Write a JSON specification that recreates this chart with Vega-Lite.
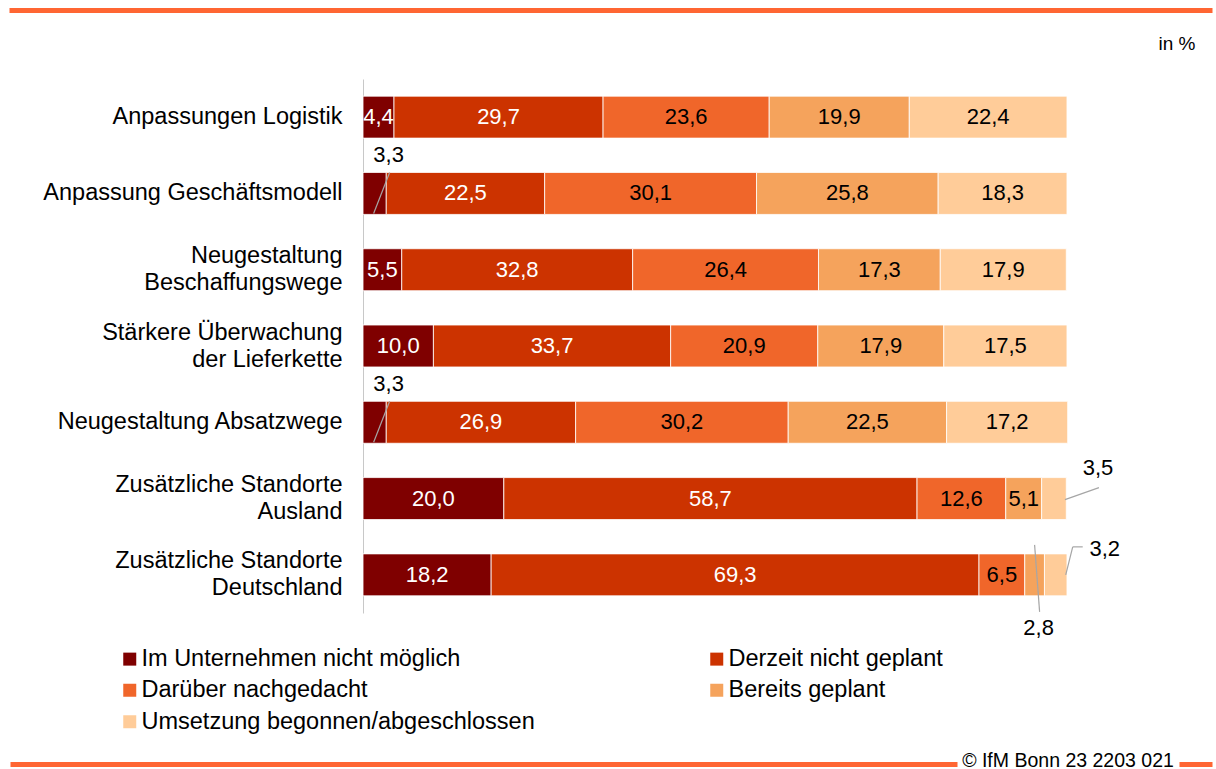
{
  "$schema": "https://vega.github.io/schema/vega-lite/v6.json",
  "autosize": "none",
  "width": 1208,
  "height": 534,
  "padding": {"left": 4, "top": 79, "right": 4, "bottom": 156},
  "config": {
    "font": "Liberation Sans",
    "view": {"stroke": null},
    "locale": {"number": {"decimal": ",", "thousands": ".", "grouping": [3], "currency": ["", " €"]}}
  },
  "data": {"values": [
    {"category": "Anpassungen Logistik", "series": "Im Unternehmen nicht möglich", "order": 1, "value": 4.4},
    {"category": "Anpassungen Logistik", "series": "Derzeit nicht geplant", "order": 2, "value": 29.7},
    {"category": "Anpassungen Logistik", "series": "Darüber nachgedacht", "order": 3, "value": 23.6},
    {"category": "Anpassungen Logistik", "series": "Bereits geplant", "order": 4, "value": 19.9},
    {"category": "Anpassungen Logistik", "series": "Umsetzung begonnen/abgeschlossen", "order": 5, "value": 22.4},
    {"category": "Anpassung Geschäftsmodell", "series": "Im Unternehmen nicht möglich", "order": 1, "value": 3.3},
    {"category": "Anpassung Geschäftsmodell", "series": "Derzeit nicht geplant", "order": 2, "value": 22.5},
    {"category": "Anpassung Geschäftsmodell", "series": "Darüber nachgedacht", "order": 3, "value": 30.1},
    {"category": "Anpassung Geschäftsmodell", "series": "Bereits geplant", "order": 4, "value": 25.8},
    {"category": "Anpassung Geschäftsmodell", "series": "Umsetzung begonnen/abgeschlossen", "order": 5, "value": 18.3},
    {"category": "Neugestaltung|Beschaffungswege", "series": "Im Unternehmen nicht möglich", "order": 1, "value": 5.5},
    {"category": "Neugestaltung|Beschaffungswege", "series": "Derzeit nicht geplant", "order": 2, "value": 32.8},
    {"category": "Neugestaltung|Beschaffungswege", "series": "Darüber nachgedacht", "order": 3, "value": 26.4},
    {"category": "Neugestaltung|Beschaffungswege", "series": "Bereits geplant", "order": 4, "value": 17.3},
    {"category": "Neugestaltung|Beschaffungswege", "series": "Umsetzung begonnen/abgeschlossen", "order": 5, "value": 17.9},
    {"category": "Stärkere Überwachung|der Lieferkette", "series": "Im Unternehmen nicht möglich", "order": 1, "value": 10.0},
    {"category": "Stärkere Überwachung|der Lieferkette", "series": "Derzeit nicht geplant", "order": 2, "value": 33.7},
    {"category": "Stärkere Überwachung|der Lieferkette", "series": "Darüber nachgedacht", "order": 3, "value": 20.9},
    {"category": "Stärkere Überwachung|der Lieferkette", "series": "Bereits geplant", "order": 4, "value": 17.9},
    {"category": "Stärkere Überwachung|der Lieferkette", "series": "Umsetzung begonnen/abgeschlossen", "order": 5, "value": 17.5},
    {"category": "Neugestaltung Absatzwege", "series": "Im Unternehmen nicht möglich", "order": 1, "value": 3.3},
    {"category": "Neugestaltung Absatzwege", "series": "Derzeit nicht geplant", "order": 2, "value": 26.9},
    {"category": "Neugestaltung Absatzwege", "series": "Darüber nachgedacht", "order": 3, "value": 30.2},
    {"category": "Neugestaltung Absatzwege", "series": "Bereits geplant", "order": 4, "value": 22.5},
    {"category": "Neugestaltung Absatzwege", "series": "Umsetzung begonnen/abgeschlossen", "order": 5, "value": 17.2},
    {"category": "Zusätzliche Standorte|Ausland", "series": "Im Unternehmen nicht möglich", "order": 1, "value": 20.0},
    {"category": "Zusätzliche Standorte|Ausland", "series": "Derzeit nicht geplant", "order": 2, "value": 58.7},
    {"category": "Zusätzliche Standorte|Ausland", "series": "Darüber nachgedacht", "order": 3, "value": 12.6},
    {"category": "Zusätzliche Standorte|Ausland", "series": "Bereits geplant", "order": 4, "value": 5.1},
    {"category": "Zusätzliche Standorte|Ausland", "series": "Umsetzung begonnen/abgeschlossen", "order": 5, "value": 3.5},
    {"category": "Zusätzliche Standorte|Deutschland", "series": "Im Unternehmen nicht möglich", "order": 1, "value": 18.2},
    {"category": "Zusätzliche Standorte|Deutschland", "series": "Derzeit nicht geplant", "order": 2, "value": 69.3},
    {"category": "Zusätzliche Standorte|Deutschland", "series": "Darüber nachgedacht", "order": 3, "value": 6.5},
    {"category": "Zusätzliche Standorte|Deutschland", "series": "Bereits geplant", "order": 4, "value": 2.8},
    {"category": "Zusätzliche Standorte|Deutschland", "series": "Umsetzung begonnen/abgeschlossen", "order": 5, "value": 3.2}
  ]},
  "transform": [
    {"stack": "value", "groupby": ["category"], "sort": [{"field": "order", "order": "ascending"}], "as": ["x0", "x1"]},
    {"calculate": "(datum.x0 + datum.x1) / 2", "as": "mid"}
  ],
  "encoding": {
    "y": {
      "field": "category", "type": "nominal", "sort": null,
      "scale": {"paddingInner": 0.45, "paddingOuter": 0.225},
      "axis": {
        "title": null, "orient": "left", "offset": -359,
        "domain": true, "domainColor": "#C8C8C8", "domainWidth": 1,
        "ticks": false, "grid": false,
        "labelExpr": "split(datum.label, '|')",
        "labelFontSize": 23.5, "labelFont": "Liberation Sans", "labelColor": "#000000",
        "labelPadding": 21, "labelLineHeight": 27, "labelLimit": 500, "labelBaseline": "middle",
        "labelOffset": {"condition": {"test": "indexof(datum.value, '|') >= 0", "value": -13.5}, "value": 0}
      }
    }
  },
  "resolve": {"axis": {"x": "independent"}},
  "layer": [
    {
      "mark": {"type": "bar", "stroke": "white", "strokeWidth": 0.8},
      "encoding": {
        "x": {
          "field": "x0", "type": "quantitative",
          "scale": {"domain": [-51.0, 120.6], "nice": false, "zero": false},
          "axis": {
            "orient": "bottom", "offset": 151, "labels": false, "ticks": false, "grid": false,
            "domain": true, "domainColor": "#FF6633", "domainWidth": 5, "domainDash": [0, 6, 947, 222, 100, 1000],
            "title": "© IfM Bonn 23 2203 021", "titleFontSize": 19.5, "titleFont": "Liberation Sans",
            "titleFontWeight": "normal", "titleColor": "#000000",
            "titleX": 1063.5, "titleY": -4, "titleAlign": "center", "titleBaseline": "middle", "titleAnchor": null
          }
        },
        "x2": {"field": "x1"},
        "color": {
          "field": "series", "type": "nominal",
          "scale": {
            "domain": ["Im Unternehmen nicht möglich", "Derzeit nicht geplant", "Darüber nachgedacht", "Bereits geplant", "Umsetzung begonnen/abgeschlossen"],
            "range": ["#7F0000", "#CC3300", "#F0662A", "#F5A35C", "#FFCC99"]
          },
          "legend": {
            "orient": "none", "legendX": 114, "legendY": 568, "columns": 2, "direction": "horizontal",
            "columnPadding": 170, "rowPadding": 6.5, "symbolType": "square", "symbolSize": 169, "symbolStrokeWidth": 0,
            "labelFontSize": 23.5, "labelFont": "Liberation Sans", "labelColor": "#000000", "labelOffset": 0,
            "labelLimit": 600, "title": null, "padding": 0
          }
        }
      }
    },
    {
      "transform": [{"filter": "datum.order <= 2 && datum.value > 4"}],
      "mark": {"type": "text", "color": "white", "fontSize": 22, "font": "Liberation Sans", "align": "center", "baseline": "middle"},
      "encoding": {
        "x": {
          "field": "mid", "type": "quantitative",
          "axis": {
            "orient": "top", "offset": 69, "labels": false, "ticks": false, "grid": false,
            "domain": true, "domainColor": "#FF6633", "domainWidth": 5, "domainDash": [0, 5, 1300],
            "title": "in %", "titleFontSize": 19, "titleFont": "Liberation Sans", "titleFontWeight": "normal",
            "titleColor": "#000000", "titleX": 1191, "titleY": 33.5, "titleAlign": "right", "titleBaseline": "middle", "titleAnchor": null
          }
        },
        "text": {"field": "value", "type": "quantitative", "format": ".1f"}
      }
    },
    {
      "transform": [{"filter": "datum.order >= 3 && datum.value > 4"}],
      "mark": {"type": "text", "color": "black", "fontSize": 22, "font": "Liberation Sans", "align": "center", "baseline": "middle"},
      "encoding": {
        "x": {"field": "mid", "type": "quantitative", "axis": null},
        "text": {"field": "value", "type": "quantitative", "format": ".1f"}
      }
    },
    {
      "transform": [{"filter": "datum.order == 1 && datum.value < 4"}],
      "mark": {"type": "rule", "color": "#A6A6A6", "strokeWidth": 1.2, "xOffset": -1, "yOffset": 20, "x2Offset": 15, "y2Offset": -21},
      "encoding": {
        "y2": {"field": "category"},
        "x": {"field": "mid", "type": "quantitative", "axis": null},
        "x2": {"field": "mid"}
      }
    },
    {
      "transform": [{"filter": "datum.order == 5 && datum.value == 3.5"}],
      "mark": {"type": "rule", "color": "#A6A6A6", "strokeWidth": 1.2, "xOffset": 11, "yOffset": 1, "x2Offset": 45, "y2Offset": -11},
      "encoding": {
        "y2": {"field": "category"},
        "x": {"field": "mid", "type": "quantitative", "axis": null},
        "x2": {"field": "mid"}
      }
    },
    {
      "transform": [{"filter": "datum.order == 5 && datum.value == 3.2"}],
      "mark": {"type": "rule", "color": "#A6A6A6", "strokeWidth": 1.2, "xOffset": 10, "yOffset": 0, "x2Offset": 17, "y2Offset": -28},
      "encoding": {
        "y2": {"field": "category"},
        "x": {"field": "mid", "type": "quantitative", "axis": null},
        "x2": {"field": "mid"}
      }
    },
    {
      "transform": [{"filter": "datum.order == 5 && datum.value == 3.2"}],
      "mark": {"type": "rule", "color": "#A6A6A6", "strokeWidth": 1.2, "xOffset": 17, "yOffset": -28, "x2Offset": 27, "y2Offset": -28},
      "encoding": {
        "y2": {"field": "category"},
        "x": {"field": "mid", "type": "quantitative", "axis": null},
        "x2": {"field": "mid"}
      }
    },
    {
      "transform": [{"filter": "datum.order == 4 && datum.value == 2.8"}],
      "mark": {"type": "rule", "color": "#A6A6A6", "strokeWidth": 1.2, "xOffset": 0, "yOffset": -30, "x2Offset": 5, "y2Offset": 37},
      "encoding": {
        "y2": {"field": "category"},
        "x": {"field": "mid", "type": "quantitative", "axis": null},
        "x2": {"field": "mid"}
      }
    },
    {
      "transform": [{"filter": "datum.order == 1 && datum.value < 4"}],
      "mark": {"type": "text", "color": "black", "fontSize": 22, "font": "Liberation Sans", "align": "center", "baseline": "middle", "dx": 14, "dy": -38},
      "encoding": {
        "x": {"field": "mid", "type": "quantitative", "axis": null},
        "text": {"field": "value", "type": "quantitative", "format": ".1f"}
      }
    },
    {
      "transform": [{"filter": "datum.order == 5 && datum.value == 3.5"}],
      "mark": {"type": "text", "color": "black", "fontSize": 22, "font": "Liberation Sans", "align": "center", "baseline": "middle", "dx": 44, "dy": -31},
      "encoding": {
        "x": {"field": "mid", "type": "quantitative", "axis": null},
        "text": {"field": "value", "type": "quantitative", "format": ".1f"}
      }
    },
    {
      "transform": [{"filter": "datum.order == 5 && datum.value == 3.2"}],
      "mark": {"type": "text", "color": "black", "fontSize": 22, "font": "Liberation Sans", "align": "center", "baseline": "middle", "dx": 49, "dy": -26},
      "encoding": {
        "x": {"field": "mid", "type": "quantitative", "axis": null},
        "text": {"field": "value", "type": "quantitative", "format": ".1f"}
      }
    },
    {
      "transform": [{"filter": "datum.order == 4 && datum.value == 2.8"}],
      "mark": {"type": "text", "color": "black", "fontSize": 22, "font": "Liberation Sans", "align": "center", "baseline": "middle", "dx": 4, "dy": 53},
      "encoding": {
        "x": {"field": "mid", "type": "quantitative", "axis": null},
        "text": {"field": "value", "type": "quantitative", "format": ".1f"}
      }
    }
  ]
}
